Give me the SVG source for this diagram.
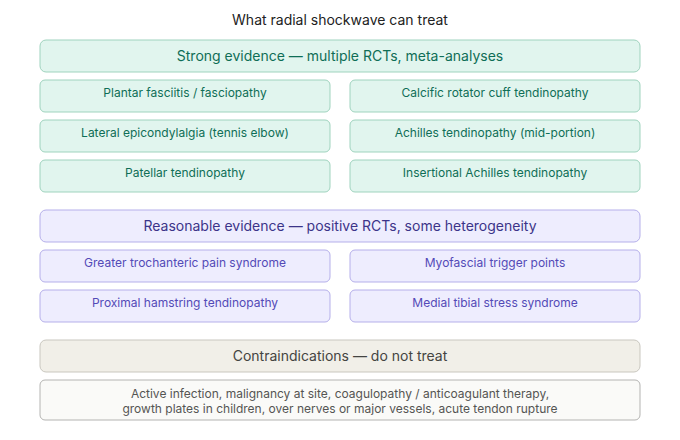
<svg xmlns="http://www.w3.org/2000/svg" width="680" height="440" viewBox="0 0 680 440">
<style>
text{font-family:Inter,"Liberation Sans",Arial,sans-serif;text-anchor:middle;dominant-baseline:central}
.t{font-size:14px;fill:#222}
.h{font-size:14px}
.i{font-size:12px}
.g rect{fill:#E1F5EE;stroke:#9FD3BE;stroke-width:1}
.g text{fill:#0F6E56}
.p rect{fill:#EEEDFE;stroke:#B5AFEA;stroke-width:1}
.p .h{fill:#3C3489}
.p .i{fill:#534AB7}
.c rect{fill:#F1EFE8;stroke:#C9C7BF;stroke-width:1}
.c text{fill:#444441}
.n rect{fill:#FAFAF8;stroke:#B4B4B2;stroke-width:1}
.n text{fill:#555553}
</style>
<rect width="680" height="440" fill="#fff"/>
<text class="t" x="340" y="19">What radial shockwave can treat</text>
<g id="strong" class="g"><rect x="40" y="40" width="600" height="32" rx="6"/><text class="h" x="340" y="55">Strong evidence — multiple RCTs, meta-analyses</text></g>
<g id="plantar" class="g"><rect x="40" y="80" width="290" height="32" rx="5"/><text class="i" x="185" y="92">Plantar fasciitis / fasciopathy</text></g>
<g id="calcific" class="g"><rect x="350" y="80" width="290" height="32" rx="5"/><text class="i" x="495" y="92">Calcific rotator cuff tendinopathy</text></g>
<g id="lateral" class="g"><rect x="40" y="120" width="290" height="32" rx="5"/><text class="i" x="185" y="132">Lateral epicondylalgia (tennis elbow)</text></g>
<g id="achilles" class="g"><rect x="350" y="120" width="290" height="32" rx="5"/><text class="i" x="495" y="132">Achilles tendinopathy (mid-portion)</text></g>
<g id="patellar" class="g"><rect x="40" y="160" width="290" height="32" rx="5"/><text class="i" x="185" y="172">Patellar tendinopathy</text></g>
<g id="insertional" class="g"><rect x="350" y="160" width="290" height="32" rx="5"/><text class="i" x="495" y="172">Insertional Achilles tendinopathy</text></g>
<g id="reasonable" class="p"><rect x="40" y="210" width="600" height="32" rx="6"/><text class="h" x="340" y="225">Reasonable evidence — positive RCTs, some heterogeneity</text></g>
<g id="gtps" class="p"><rect x="40" y="250" width="290" height="32" rx="5"/><text class="i" x="185" y="262">Greater trochanteric pain syndrome</text></g>
<g id="myofascial" class="p"><rect x="350" y="250" width="290" height="32" rx="5"/><text class="i" x="495" y="262">Myofascial trigger points</text></g>
<g id="hamstring" class="p"><rect x="40" y="290" width="290" height="32" rx="5"/><text class="i" x="185" y="302">Proximal hamstring tendinopathy</text></g>
<g id="mtss" class="p"><rect x="350" y="290" width="290" height="32" rx="5"/><text class="i" x="495" y="302">Medial tibial stress syndrome</text></g>
<g id="contra" class="c"><rect x="40" y="340" width="600" height="32" rx="6"/><text class="h" x="340" y="355">Contraindications — do not treat</text></g>
<g id="contra-list" class="n"><rect x="40" y="380" width="600" height="40" rx="5"/><text class="i" x="340" y="393">Active infection, malignancy at site, coagulopathy / anticoagulant therapy,</text><text class="i" x="340" y="408">growth plates in children, over nerves or major vessels, acute tendon rupture</text></g>
<g id="connectors"></g>
</svg>
